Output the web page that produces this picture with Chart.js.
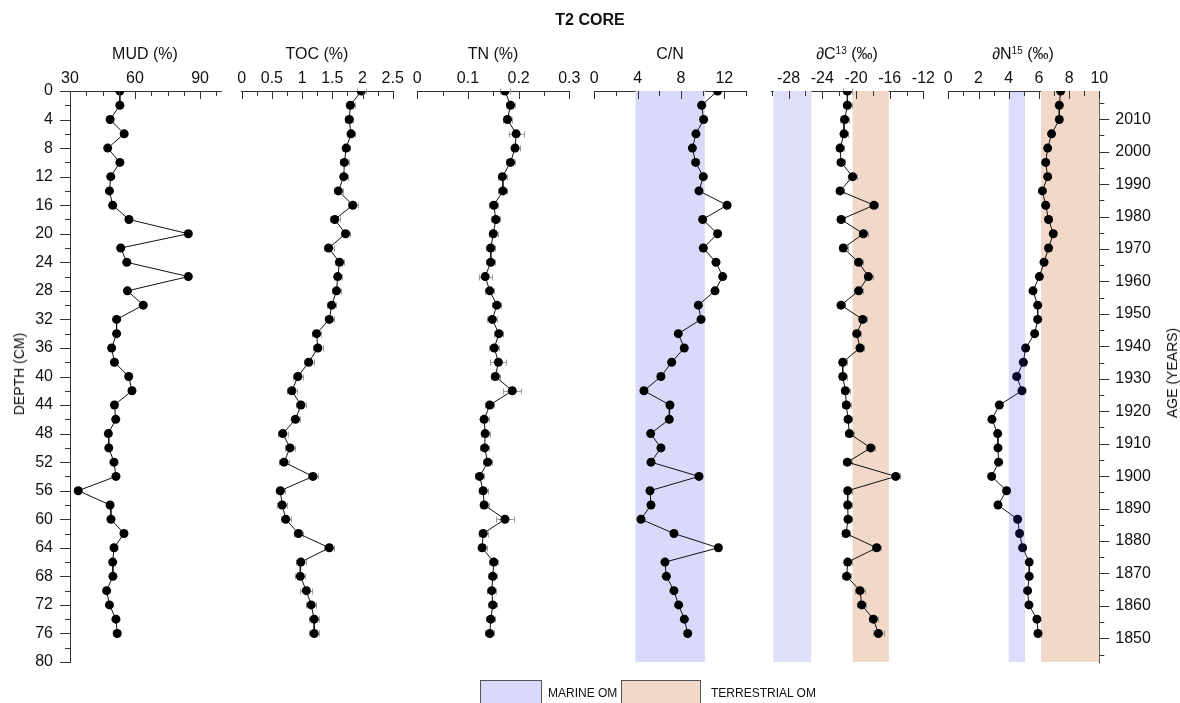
<!DOCTYPE html>
<html>
<head>
<meta charset="utf-8">
<script src="https://cdn.jsdelivr.net/npm/chart.js@4.4.1/dist/chart.umd.min.js"></script>
<style>
  body { margin: 0; background: #fff; font-family: "Liberation Sans", Arial, sans-serif; }
  #wrap { position: relative; width: 1180px; height: 703px; overflow: hidden; }
  #wrap canvas { position: absolute; left: 0; top: 0; }
  .lbl { position: absolute; color: #111; white-space: nowrap; font-size: 16px; line-height: 16px; transform: translateX(-50%); }
  .lbl sup { font-size: 10px; vertical-align: 5px; line-height: 0; }
  .rot { position: absolute; color: #111; white-space: nowrap; font-size: 14px; line-height: 14px; transform: translate(-50%, -50%) rotate(-90deg); }
  .box { position: absolute; border: 1px solid #555; box-sizing: border-box; }
  .leg { position: absolute; font-size: 12px; line-height: 12px; color: #111; white-space: nowrap; }
</style>
</head>
<body>
<div id="wrap">
  <canvas id="c0" width="1180" height="703"></canvas>
  <canvas id="c1" width="1180" height="703"></canvas>
  <canvas id="c2" width="1180" height="703"></canvas>
  <canvas id="c3" width="1180" height="703"></canvas>
  <canvas id="c4" width="1180" height="703"></canvas>
  <canvas id="c5" width="1180" height="703"></canvas>

  <div class="lbl" style="left:590px;top:12px;font-weight:bold;">T2 CORE</div>
  <div class="lbl" style="left:145px;top:46px;">MUD (%)</div>
  <div class="lbl" style="left:317px;top:46px;">TOC (%)</div>
  <div class="lbl" style="left:493px;top:46px;">TN (%)</div>
  <div class="lbl" style="left:670px;top:46px;">C/N</div>
  <div class="lbl" style="left:847px;top:46px;">&part;C<sup>13</sup> (&permil;)</div>
  <div class="lbl" style="left:1023px;top:46px;">&part;N<sup>15</sup> (&permil;)</div>
  <div class="rot" style="left:19px;top:374px;">DEPTH (CM)</div>
  <div class="rot" style="left:1172px;top:373px;">AGE (YEARS)</div>

  <div class="box" style="left:480px;top:680px;width:62px;height:24px;background:#d9d9fa;"></div>
  <div class="leg" style="left:548px;top:687px;">MARINE OM</div>
  <div class="box" style="left:621px;top:680px;width:80px;height:24px;background:#f2d8c8;"></div>
  <div class="leg" style="left:711px;top:687px;">TERRESTRIAL OM</div>
</div>
<script>
// depth of each sample (cm)
const depth = [0, 2, 4, 6, 8, 10, 12, 14, 16, 18, 20, 22, 24, 26, 28, 30, 32, 34, 36,
  38, 40, 42, 44, 46, 48, 50, 52, 54, 56, 58, 60, 62, 64, 66, 68, 70, 72, 74, 76];

const mud = [53, 53, 48.5, 55, 47.4, 53, 48.8, 48.2, 49.7, 57.2, 84.6, 53.4, 56.2, 84.6, 56.5, 63.8, 51.5, 51.5, 49.2,
  50.5, 57.1, 58.6, 50.5, 51.1, 47.7, 47.9, 50.3, 51.2, 33.8, 48.5, 48.9, 54.9, 50.3, 49.7, 49.8, 46.9, 48.2, 51.2, 51.8];

const toc = [1.98, 1.80, 1.78, 1.81, 1.73, 1.70, 1.69, 1.60, 1.84, 1.54, 1.72, 1.44, 1.62, 1.59, 1.57, 1.49, 1.45, 1.24, 1.26,
  1.11, 0.93, 0.83, 0.98, 0.89, 0.68, 0.80, 0.70, 1.18, 0.64, 0.67, 0.73, 0.94, 1.45, 0.98, 0.97, 1.07, 1.15, 1.20, 1.20];
const tocErr = [0.07, 0.07, 0.07, 0.07, 0.07, 0.07, 0.07, 0.07, 0.08, 0.08, 0.08, 0.08, 0.07, 0.07, 0.07, 0.07, 0.07, 0.08, 0.08,
  0.08, 0.08, 0.08, 0.08, 0.08, 0.08, 0.08, 0.08, 0.08, 0.08, 0.08, 0.08, 0.08, 0.08, 0.08, 0.08, 0.1, 0.08, 0.08, 0.08];

const tn = [0.173, 0.184, 0.178, 0.195, 0.193, 0.184, 0.168, 0.169, 0.151, 0.155, 0.150, 0.145, 0.145, 0.134, 0.143, 0.157, 0.148, 0.161, 0.152,
  0.160, 0.154, 0.1875, 0.143, 0.132, 0.134, 0.133, 0.139, 0.123, 0.130, 0.132, 0.173, 0.130, 0.128, 0.151, 0.149, 0.147, 0.149, 0.145, 0.143];
const tnErr = [0.009, 0.009, 0.009, 0.015, 0.009, 0.009, 0.009, 0.009, 0.009, 0.009, 0.009, 0.009, 0.009, 0.013, 0.009, 0.009, 0.01, 0.009, 0.01,
  0.016, 0.009, 0.018, 0.009, 0.009, 0.009, 0.009, 0.009, 0.009, 0.009, 0.009, 0.017, 0.009, 0.009, 0.009, 0.009, 0.009, 0.009, 0.009, 0.009];

const cn = [11.38, 9.91, 10.09, 9.38, 9.05, 9.35, 10.06, 9.66, 12.25, 10.0, 11.38, 10.06, 11.23, 11.85, 11.14, 9.6, 9.85, 7.75, 8.3,
  7.14, 6.15, 4.58, 6.98, 6.92, 5.2, 6.15, 5.23, 9.66, 5.14, 5.23, 4.31, 7.35, 11.45, 6.52, 6.65, 7.35, 7.78, 8.31, 8.62];

const dC13 = [-21.02, -21.02, -21.34, -21.42, -21.89, -21.77, -20.39, -21.89, -17.86, -21.77, -19.12, -21.5, -19.68, -18.53, -19.68, -21.77, -19.2, -19.91, -19.52,
  -21.57, -21.57, -21.26, -21.14, -20.94, -20.78, -18.25, -21.02, -15.28, -20.98, -20.98, -20.94, -21.18, -17.54, -20.98, -21.1, -19.52, -19.32, -17.94, -17.34];
const dC13Err = [0.5, 0.5, 0.5, 0.5, 0.5, 0.5, 0.5, 0.5, 0.5, 0.5, 0.5, 0.5, 0.5, 0.5, 0.5, 0.5, 0.5, 0.5, 0.5,
  0.5, 0.5, 0.5, 0.5, 0.5, 0.5, 0.5, 0.5, 0.5, 0.5, 0.5, 0.5, 0.5, 0.5, 0.5, 0.5, 0.6, 0.5, 0.5, 0.65];

const dN15 = [7.44, 7.35, 7.35, 6.84, 6.58, 6.45, 6.58, 6.23, 6.45, 6.64, 6.95, 6.64, 6.34, 6.03, 5.61, 5.92, 5.92, 5.72, 5.12,
  4.97, 4.53, 4.88, 3.38, 2.89, 3.27, 3.29, 3.33, 2.87, 3.86, 3.29, 4.59, 4.72, 4.92, 5.36, 5.36, 5.25, 5.34, 5.87, 5.94];

// source ranges (shaded bands)
const cnMarine = [3.8, 10.2];
const dC13Marine = [-29.8, -25.3];
const dC13Terrestrial = [-20.4, -16.1];
const dN15Marine = [4.0, 5.08];
const dN15Terrestrial = [6.14, 10];

// axis ticks
const depthTicks = [0, 4, 8, 12, 16, 20, 24, 28, 32, 36, 40, 44, 48, 52, 56, 60, 64, 68, 72, 76, 80];
const depthMinor = [2, 6, 10, 14, 18, 22, 26, 30, 34, 38, 42, 46, 50, 54, 58, 62, 66, 70, 74, 78];
const ageTicks = [1850, 1860, 1870, 1880, 1890, 1900, 1910, 1920, 1930, 1940, 1950, 1960, 1970, 1980, 1990, 2000, 2010];
const ageMinor = [1845, 1855, 1865, 1875, 1885, 1895, 1905, 1915, 1925, 1935, 1945, 1955, 1965, 1975, 1985, 1995, 2005, 2015];
const mudTicks = [30, 60, 90];
const mudMinor = [37.5, 45, 52.5, 67.5, 75, 82.5, 97.5];
const tocTicks = [0, 0.5, 1, 1.5, 2, 2.5];
const tocMinor = [0.25, 0.75, 1.25, 1.75, 2.25];
const tnTicks = [0, 0.1, 0.2, 0.3];
const tnMinor = [0.05, 0.15, 0.25];
const cnTicks = [0, 4, 8, 12];
const cnMinor = [2, 6, 10, 14];
const dC13Ticks = [-28, -24, -20, -16, -12];
const dC13Minor = [-30, -26, -22, -18, -14];
const dN15Ticks = [0, 2, 4, 6, 8, 10];
const dN15Minor = [1, 3, 5, 7, 9];

const FONT = '"Liberation Sans", Arial, sans-serif';
const AXIS = "#333";
const MARINE = "#d9d9fa";
const MARINE_LIGHT = "#dfdffa";
const TERRESTRIAL = "#f2d8c8";

// shaded source ranges, full depth of the plot
const bandsPlugin = {
  id: "bands",
  beforeDatasetsDraw(chart, args, opts) { drawBands(chart, (opts.list || []).filter((b) => !b.over)); },
  afterDatasetsDraw(chart, args, opts) { drawBands(chart, (opts.list || []).filter((b) => b.over)); },
};
function drawBands(chart, list) {
  const { ctx } = chart;
  const x = chart.scales.x, y = chart.scales.y;
  ctx.save();
  list.forEach((b) => {
    const x0 = x.getPixelForValue(b.range[0]);
    const x1 = x.getPixelForValue(b.range[1]);
    const y0 = y.getPixelForValue(0);
    const y1 = y.getPixelForValue(80);
    ctx.fillStyle = b.color;
    ctx.fillRect(x0, y0, x1 - x0, y1 - y0);
  });
  ctx.restore();
}

// horizontal error bars under the points
const errorBarsPlugin = {
  id: "errorBars",
  beforeDatasetsDraw(chart) {
    const { ctx } = chart;
    chart.data.datasets.forEach((ds, i) => {
      if (!ds.errors) return;
      const meta = chart.getDatasetMeta(i);
      const x = chart.scales.x;
      ctx.save();
      ctx.strokeStyle = "#9a9a9a";
      ctx.lineWidth = 1;
      meta.data.forEach((pt, j) => {
        const v = ds.data[j].x, e = ds.errors[j];
        const xa = x.getPixelForValue(v - e), xb = x.getPixelForValue(v + e);
        const yy = Math.round(pt.y) + 0.5;
        ctx.beginPath();
        ctx.moveTo(xa, yy); ctx.lineTo(xb, yy);
        ctx.moveTo(Math.round(xa) + 0.5, yy - 3); ctx.lineTo(Math.round(xa) + 0.5, yy + 3);
        ctx.moveTo(Math.round(xb) + 0.5, yy - 3); ctx.lineTo(Math.round(xb) + 0.5, yy + 3);
        ctx.stroke();
      });
      ctx.restore();
    });
  },
};

// major and minor tick marks
const tickMarksPlugin = {
  id: "tickMarks",
  afterDraw(chart, args, opts) {
    const { ctx, chartArea: ca } = chart;
    ctx.save();
    ctx.strokeStyle = AXIS;
    ctx.lineWidth = 1;
    (opts.marks || []).forEach((m) => {
      const s = chart.scales[m.scale];
      const draw = (v, len) => {
        const p = Math.round(s.getPixelForValue(v)) + 0.5;
        ctx.beginPath();
        if (m.side === "top") { ctx.moveTo(p, ca.top); ctx.lineTo(p, ca.top + len); }
        else if (m.side === "left") { ctx.moveTo(ca.left, p); ctx.lineTo(ca.left - len, p); }
        else { ctx.moveTo(ca.right, p); ctx.lineTo(ca.right + len, p); }
        ctx.stroke();
      };
      m.major.forEach((v) => draw(v, m.side === "top" ? 8 : 10));
      m.minor.forEach((v) => draw(v, 5));
    });
    ctx.restore();
  },
};

function fixedTicks(values) {
  return (scale) => { scale.ticks = values.map((v) => ({ value: v })); };
}

function mountPanel(id, cfg) {
  const marks = [{ scale: "x", side: "top", major: cfg.ticks, minor: cfg.minor }];
  const scales = {
    x: {
      type: "linear",
      position: "top",
      min: cfg.min,
      max: cfg.max,
      grid: { display: false, drawTicks: false },
      border: { display: true, color: AXIS, width: 1 },
      ticks: {
        color: "#111", font: { size: 16, family: FONT }, padding: 3,
        autoSkip: false, maxRotation: 0, callback: (v) => String(v),
      },
      afterBuildTicks: fixedTicks(cfg.ticks),
      afterFit: (s) => { s.height = 30; },
    },
    y: {
      type: "linear",
      min: 0,
      max: 80,
      reverse: true,
      display: false,
    },
  };
  if (cfg.depthAxis) {
    Object.assign(scales.y, {
      display: true,
      grid: { display: false, drawTicks: false },
      border: { display: true, color: AXIS, width: 1 },
      ticks: {
        color: "#111", font: { size: 16, family: FONT }, padding: 17,
        autoSkip: false, callback: (v) => String(v),
      },
      afterBuildTicks: fixedTicks(depthTicks),
      afterFit: (s) => { s.width = 40; },
    });
    marks.push({ scale: "y", side: "left", major: depthTicks, minor: depthMinor });
  }
  if (cfg.ageAxis) {
    scales.age = {
      type: "linear",
      position: "right",
      min: 1842.7,
      max: 2018.7,
      grid: { display: false, drawTicks: false },
      border: { display: true, color: AXIS, width: 1 },
      ticks: {
        color: "#111", font: { size: 16, family: FONT }, padding: 16,
        autoSkip: false, callback: (v) => String(v),
      },
      afterBuildTicks: fixedTicks(ageTicks),
      afterFit: (s) => { s.width = 60; },
    };
    marks.push({ scale: "age", side: "right", major: ageTicks, minor: ageMinor });
  }

  return new Chart(document.getElementById(id), {
    type: "scatter",
    data: {
      datasets: [{
        data: depth.map((d, i) => ({ x: cfg.values[i], y: d })),
        errors: cfg.errors,
        showLine: true,
        borderColor: "#111",
        borderWidth: 1,
        pointRadius: 4.5,
        pointBackgroundColor: "#000",
        pointBorderWidth: 0,
        tension: 0,
      }],
    },
    options: {
      responsive: false,
      animation: false,
      layout: { padding: cfg.padding },
      scales,
      plugins: {
        legend: { display: false },
        tooltip: { enabled: false },
        bands: { list: cfg.bands || [] },
        tickMarks: { marks },
      },
    },
    plugins: [bandsPlugin, errorBarsPlugin, tickMarksPlugin],
  });
}

// padding places each panel's plot area: top 91, bottom 662
const TOP = 61, BOTTOM = 41;

mountPanel("c0", {
  values: mud, min: 30, max: 100, ticks: mudTicks, minor: mudMinor, depthAxis: true,
  padding: { left: 30, right: 1180 - 221.7, top: TOP, bottom: BOTTOM },
});
mountPanel("c1", {
  values: toc, errors: tocErr, min: 0, max: 2.5, ticks: tocTicks, minor: tocMinor,
  padding: { left: 241.7, right: 1180 - 392.7, top: TOP, bottom: BOTTOM },
});
mountPanel("c2", {
  values: tn, errors: tnErr, min: 0, max: 0.3, ticks: tnTicks, minor: tnMinor,
  padding: { left: 417.3, right: 1180 - 569.3, top: TOP, bottom: BOTTOM },
});
mountPanel("c3", {
  values: cn, min: 0, max: 14, ticks: cnTicks, minor: cnMinor,
  bands: [{ range: cnMarine, color: MARINE }],
  padding: { left: 594.3, right: 1180 - 746, top: TOP, bottom: BOTTOM },
});
mountPanel("c4", {
  values: dC13, errors: dC13Err, min: -30, max: -12, ticks: dC13Ticks, minor: dC13Minor,
  bands: [{ range: dC13Marine, color: MARINE_LIGHT }, { range: dC13Terrestrial, color: TERRESTRIAL }],
  padding: { left: 771.7, right: 1180 - 923.4, top: TOP, bottom: BOTTOM },
});
mountPanel("c5", {
  values: dN15, min: 0, max: 10, ticks: dN15Ticks, minor: dN15Minor, ageAxis: true,
  bands: [{ range: dN15Terrestrial, color: TERRESTRIAL }, { range: dN15Marine, color: "rgba(50,50,235,0.17)", over: true }],
  padding: { left: 948.3, right: 1180 - 1099.3 - 60, top: TOP, bottom: BOTTOM },
});
</script>
</body>
</html>
